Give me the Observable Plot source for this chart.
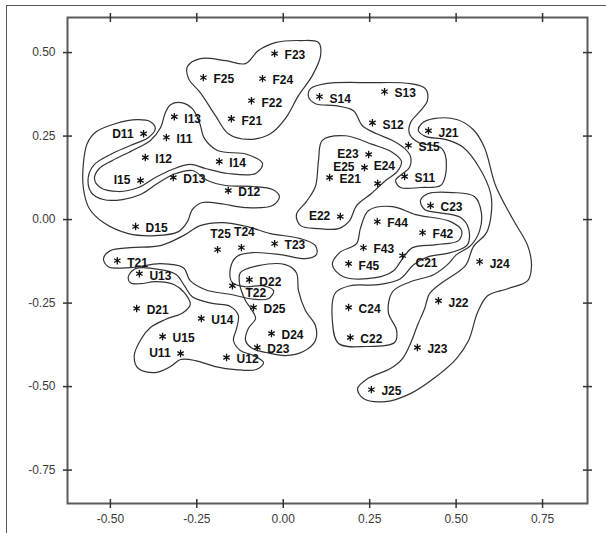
<!DOCTYPE html>
<html><head><meta charset="utf-8">
<script src="https://cdn.jsdelivr.net/npm/d3@7"></script>
<script src="https://cdn.jsdelivr.net/npm/@observablehq/plot@0.6"></script>
<style>
html,body{margin:0;padding:0;background:#fff;}
#wrap{position:relative;width:606px;height:533px;overflow:hidden;}
#border{position:absolute;left:6px;top:5px;width:640px;height:560px;border-left:1.5px solid #555;border-top:1.5px solid #555;pointer-events:none;}
</style></head><body><div id="wrap"><div id="border"></div></div>
<script>
// point labels and coordinates
const names = ["F23","F25","F24","F22","F21","I13","D11","I11","I12","I14","I15","D13","D12","D15",
  "S14","S13","S12","J21","S15","E23","E25","E24","E21","S11","E22",
  "C23","F44","F42","F43","C21","F45","J24","C24","J22","C22","J23","J25",
  "T25","T24","T23","T21","U13","T22","D22","D21","D25","U14","U15","D24","D23","U11","U12"];
const xs = [-0.025,-0.231,-0.060,-0.092,-0.150,-0.315,-0.404,-0.338,-0.399,-0.185,-0.413,-0.318,-0.159,-0.427,
  0.105,0.293,0.258,0.420,0.362,0.247,0.235,0.273,0.134,0.351,0.165,
  0.426,0.272,0.403,0.232,0.345,0.189,0.568,0.189,0.449,0.194,0.388,0.255,
  -0.190,-0.121,-0.025,-0.480,-0.416,-0.147,-0.098,-0.424,-0.086,-0.237,-0.349,-0.034,-0.075,-0.297,-0.164];
const ys = [0.497,0.425,0.422,0.356,0.302,0.308,0.257,0.246,0.186,0.174,0.117,0.126,0.087,-0.021,
  0.368,0.383,0.290,0.266,0.222,0.195,0.156,0.108,0.126,0.129,0.009,
  0.042,-0.006,-0.039,-0.084,-0.108,-0.132,-0.126,-0.263,-0.243,-0.353,-0.383,-0.509,
  -0.090,-0.084,-0.072,-0.123,-0.162,-0.198,-0.180,-0.266,-0.263,-0.296,-0.350,-0.341,-0.383,-0.401,-0.413];
const leftLabeled = ["D11","I15","E23","E25","E22","U11"];
const aboveLabeled = ["T25","T24"];
const aboveRightLabeled = ["E24"];
const belowRightLabeled = ["T22","C21"];

const xTicks = [-0.5,-0.25,0,0.25,0.5,0.75];
const yTicks = [-0.75,-0.5,-0.25,0,0.25,0.5];
const xDomain = [-0.624, 0.880];
const yDomain = [-0.850, 0.605];

// group outlines (data units)
const contourF = [[-0.277,0.458],[-0.240,0.482],[-0.167,0.476],[-0.109,0.467],[-0.072,0.506],[-0.023,0.530],[0.050,0.536],[0.102,0.530],[0.108,0.491],[0.084,0.431],[0.044,0.371],[0.006,0.302],[-0.037,0.257],[-0.101,0.240],[-0.159,0.257],[-0.196,0.311],[-0.240,0.380],[-0.274,0.422]];
const contourI = [[-0.326,0.344],[-0.295,0.350],[-0.263,0.332],[-0.242,0.290],[-0.228,0.243],[-0.190,0.207],[-0.104,0.195],[-0.060,0.168],[-0.080,0.138],[-0.159,0.138],[-0.225,0.153],[-0.269,0.165],[-0.321,0.150],[-0.370,0.126],[-0.419,0.096],[-0.477,0.084],[-0.529,0.096],[-0.546,0.123],[-0.532,0.153],[-0.494,0.177],[-0.436,0.207],[-0.384,0.237],[-0.355,0.275],[-0.341,0.320]];
const contourD = [[-0.541,0.263],[-0.486,0.287],[-0.422,0.299],[-0.384,0.293],[-0.370,0.272],[-0.390,0.246],[-0.442,0.222],[-0.500,0.195],[-0.546,0.165],[-0.564,0.126],[-0.555,0.081],[-0.520,0.060],[-0.465,0.060],[-0.413,0.075],[-0.364,0.108],[-0.318,0.135],[-0.263,0.147],[-0.219,0.117],[-0.167,0.102],[-0.089,0.099],[-0.031,0.090],[-0.011,0.069],[-0.031,0.042],[-0.109,0.036],[-0.182,0.048],[-0.234,0.051],[-0.263,0.030],[-0.277,-0.006],[-0.303,-0.036],[-0.370,-0.048],[-0.448,-0.042],[-0.520,-0.009],[-0.561,0.033],[-0.578,0.093],[-0.578,0.168],[-0.567,0.228]];
const contourS = [[0.079,0.392],[0.122,0.407],[0.252,0.410],[0.368,0.407],[0.411,0.392],[0.417,0.356],[0.397,0.326],[0.368,0.290],[0.365,0.257],[0.391,0.231],[0.455,0.216],[0.469,0.192],[0.469,0.132],[0.455,0.102],[0.397,0.096],[0.339,0.096],[0.325,0.117],[0.342,0.135],[0.365,0.156],[0.368,0.189],[0.351,0.213],[0.316,0.237],[0.270,0.257],[0.229,0.281],[0.203,0.326],[0.151,0.341],[0.093,0.347],[0.073,0.368]];
const contourE = [[0.113,0.237],[0.180,0.251],[0.258,0.225],[0.316,0.201],[0.342,0.174],[0.330,0.144],[0.296,0.117],[0.255,0.078],[0.212,0.042],[0.192,-0.003],[0.160,-0.027],[0.102,-0.027],[0.050,-0.018],[0.038,0.015],[0.067,0.054],[0.093,0.099],[0.102,0.177]];
const contourJ = [[0.391,0.266],[0.400,0.287],[0.435,0.302],[0.504,0.299],[0.550,0.269],[0.582,0.216],[0.614,0.102],[0.663,0.003],[0.707,-0.078],[0.718,-0.138],[0.707,-0.183],[0.649,-0.207],[0.591,-0.228],[0.562,-0.278],[0.536,-0.362],[0.501,-0.416],[0.435,-0.476],[0.368,-0.521],[0.296,-0.545],[0.232,-0.536],[0.215,-0.506],[0.244,-0.476],[0.310,-0.446],[0.345,-0.416],[0.368,-0.371],[0.388,-0.317],[0.409,-0.266],[0.423,-0.222],[0.455,-0.192],[0.527,-0.138],[0.550,-0.081],[0.588,-0.039],[0.602,0.021],[0.600,0.078],[0.565,0.159],[0.521,0.216],[0.469,0.240],[0.411,0.249]];
const contourC = [[0.397,0.057],[0.420,0.078],[0.490,0.081],[0.553,0.069],[0.573,0.021],[0.568,-0.033],[0.542,-0.078],[0.501,-0.105],[0.475,-0.135],[0.435,-0.165],[0.368,-0.186],[0.316,-0.216],[0.304,-0.278],[0.328,-0.332],[0.322,-0.368],[0.238,-0.380],[0.160,-0.371],[0.142,-0.302],[0.151,-0.219],[0.194,-0.198],[0.275,-0.195],[0.339,-0.177],[0.377,-0.135],[0.420,-0.111],[0.484,-0.099],[0.533,-0.075],[0.536,-0.027],[0.513,0.006],[0.449,0.021],[0.409,0.030]];
const contourF4 = [[0.223,-0.027],[0.247,0.027],[0.316,0.039],[0.383,0.015],[0.484,-0.006],[0.516,-0.033],[0.507,-0.063],[0.443,-0.075],[0.374,-0.084],[0.345,-0.117],[0.319,-0.153],[0.267,-0.174],[0.174,-0.171],[0.142,-0.135],[0.163,-0.099],[0.212,-0.072]];
const contourT = [[-0.520,-0.117],[-0.500,-0.093],[-0.442,-0.084],[-0.355,-0.078],[-0.289,-0.048],[-0.240,-0.018],[-0.176,-0.009],[-0.104,-0.021],[-0.037,-0.042],[0.050,-0.057],[0.093,-0.078],[0.096,-0.105],[0.064,-0.117],[-0.008,-0.105],[-0.089,-0.099],[-0.135,-0.111],[-0.153,-0.147],[-0.147,-0.189],[-0.109,-0.201],[-0.060,-0.198],[-0.028,-0.213],[-0.043,-0.237],[-0.095,-0.237],[-0.147,-0.225],[-0.225,-0.210],[-0.269,-0.183],[-0.289,-0.144],[-0.355,-0.132],[-0.442,-0.144],[-0.506,-0.141]];
const contourU = [[-0.448,-0.171],[-0.428,-0.147],[-0.355,-0.150],[-0.309,-0.165],[-0.286,-0.198],[-0.263,-0.231],[-0.205,-0.251],[-0.153,-0.260],[-0.130,-0.287],[-0.135,-0.326],[-0.144,-0.362],[-0.124,-0.392],[-0.086,-0.407],[-0.057,-0.428],[-0.078,-0.449],[-0.138,-0.449],[-0.196,-0.440],[-0.254,-0.422],[-0.297,-0.419],[-0.326,-0.440],[-0.370,-0.458],[-0.419,-0.446],[-0.431,-0.407],[-0.410,-0.356],[-0.384,-0.323],[-0.341,-0.299],[-0.289,-0.278],[-0.269,-0.254],[-0.286,-0.219],[-0.315,-0.195],[-0.370,-0.186],[-0.413,-0.192],[-0.442,-0.189]];
const contourD2 = [[-0.124,-0.159],[-0.072,-0.138],[0.006,-0.135],[0.038,-0.159],[0.044,-0.213],[0.064,-0.272],[0.093,-0.317],[0.093,-0.362],[0.058,-0.395],[0.006,-0.407],[-0.049,-0.398],[-0.089,-0.386],[-0.109,-0.362],[-0.101,-0.326],[-0.080,-0.296],[-0.092,-0.269],[-0.109,-0.243],[-0.121,-0.213],[-0.127,-0.186]];

const points = names.map((n, i) => ({name: n, x: xs[i], y: ys[i]}));
const outlines = [["F",contourF],["I",contourI],["D",contourD],["S",contourS],["E",contourE],["J",contourJ],
  ["C",contourC],["F4",contourF4],["T",contourT],["U",contourU],["D2",contourD2]]
  .flatMap(([g, pts]) => pts.map(([x, y]) => ({g, x, y})));

const special = [...leftLabeled, ...aboveLabeled, ...aboveRightLabeled, ...belowRightLabeled];
const rightPts = points.filter(p => !special.includes(p.name));
const leftPts = points.filter(p => leftLabeled.includes(p.name));
const abovePts = points.filter(p => aboveLabeled.includes(p.name));
const aboveRightPts = points.filter(p => aboveRightLabeled.includes(p.name));
const belowRightPts = points.filter(p => belowRightLabeled.includes(p.name));

const vTick = {draw(ctx, size) {const r = Math.sqrt(size / Math.PI); ctx.moveTo(0, -r); ctx.lineTo(0, r);}};
const hTick = {draw(ctx, size) {const r = Math.sqrt(size / Math.PI); ctx.moveTo(-r, 0); ctx.lineTo(r, 0);}};

const labelStyle = {fontSize: 12, fontWeight: "bold", fill: "#111"};
const tickStyle = {fill: "none", stroke: "#333", strokeWidth: 1.5, r: 4.5};

const chart = Plot.plot({
  width: 606, height: 533,
  marginLeft: 67, marginRight: 19, marginTop: 17, marginBottom: 30,
  style: {fontFamily: "'Liberation Sans', Arial, sans-serif", color: "#3a3a3a", background: "transparent"},
  x: {domain: xDomain, label: null},
  y: {domain: yDomain, label: null},
  marks: [
    Plot.line(outlines, {x: "x", y: "y", z: "g", curve: "catmull-rom-closed", stroke: "#333", strokeWidth: 1.2}),
    Plot.frame({stroke: "#5a5a5a", strokeWidth: 2}),
    Plot.dot(xTicks, {x: d => d, y: () => yDomain[0], symbol: vTick, ...tickStyle}),
    Plot.dot(xTicks, {x: d => d, y: () => yDomain[1], symbol: vTick, ...tickStyle}),
    Plot.dot(yTicks, {y: d => d, x: () => xDomain[0], symbol: hTick, ...tickStyle}),
    Plot.dot(yTicks, {y: d => d, x: () => xDomain[1], symbol: hTick, ...tickStyle}),
    Plot.axisX(xTicks, {anchor: "bottom", label: null, tickSize: 0, tickPadding: 11, tickFormat: d => d.toFixed(2), fontSize: 12}),
    Plot.axisY(yTicks, {anchor: "left", label: null, tickSize: 0, tickPadding: 12, tickFormat: d => d.toFixed(2), fontSize: 12}),
    Plot.dot(points, {x: "x", y: "y", symbol: "asterisk", r: 3.5, stroke: "#111", strokeWidth: 1.3}),
    Plot.text(rightPts, {x: "x", y: "y", text: "name", textAnchor: "start", dx: 10, dy: 2, ...labelStyle}),
    Plot.text(leftPts, {x: "x", y: "y", text: "name", textAnchor: "end", dx: -10, dy: 0, ...labelStyle}),
    Plot.text(abovePts, {x: "x", y: "y", text: "name", textAnchor: "middle", dx: 3, dy: -15, ...labelStyle}),
    Plot.text(aboveRightPts, {x: "x", y: "y", text: "name", textAnchor: "start", dx: -4, dy: -17, ...labelStyle}),
    Plot.text(belowRightPts, {x: "x", y: "y", text: "name", textAnchor: "start", dx: 13, dy: 7, ...labelStyle})
  ]
});
document.getElementById("wrap").prepend(chart);
</script></body></html>
